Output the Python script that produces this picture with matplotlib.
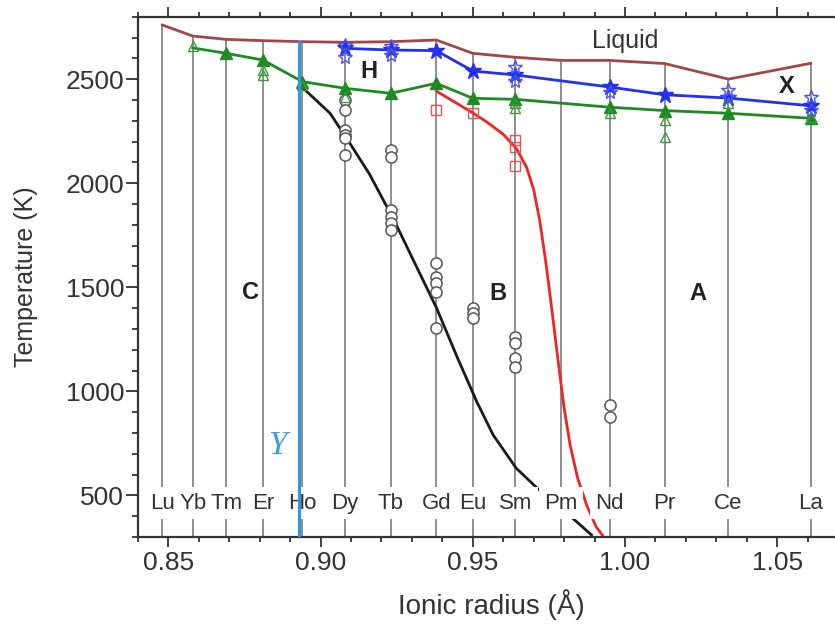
import matplotlib
matplotlib.use("Agg")
import matplotlib.pyplot as plt
from matplotlib.ticker import MultipleLocator, FormatStrFormatter

plt.rcParams['font.family'] = ['Liberation Sans', 'DejaVu Sans']

# element positions (ionic radius, Angstrom) and liquidus temperature
elements = ["Lu", "Yb", "Tm", "Er", "Ho", "Dy", "Tb", "Gd", "Eu", "Sm", "Pm", "Nd", "Pr", "Ce", "La"]
radii = [0.848, 0.858, 0.869, 0.881, 0.894, 0.908, 0.923, 0.938, 0.950, 0.964, 0.979, 0.995, 1.013, 1.034, 1.061]
liquidus = [2760, 2707, 2691, 2685, 2680, 2677, 2680, 2688, 2624, 2605, 2590, 2590, 2575, 2500, 2576]
y_radius = 0.893

# H phase boundary (green) and X phase boundary (blue)
green_x = [0.869, 0.881, 0.894, 0.908, 0.923, 0.938, 0.950, 0.964, 0.995, 1.013, 1.034, 1.061]
green_T = [2624, 2592, 2488, 2456, 2432, 2480, 2408, 2403, 2365, 2349, 2336, 2312]
green_start = (0.858, 2650)
blue_x = [0.908, 0.923, 0.938, 0.950, 0.964, 0.995, 1.013, 1.034, 1.061]
blue_T = [2648, 2640, 2637, 2539, 2520, 2462, 2425, 2409, 2372]

# C -> B boundary (black) and B -> A boundary (red)
black_x = [0.894, 0.9031, 0.9096, 0.9160, 0.9242, 0.9310, 0.9381, 0.9447, 0.9513, 0.9567,
           0.9643, 0.9715, 0.9780, 0.9840, 0.9890]
black_T = [2460, 2336, 2192, 2045, 1820, 1614, 1400, 1170, 950, 790, 630, 530, 450, 375, 310]
red_x = [0.9383, 0.9502, 0.9550, 0.9600, 0.9644, 0.9677, 0.9700, 0.9720, 0.9740, 0.9760,
         0.9780, 0.9800, 0.9820, 0.9845, 0.9875, 0.9905, 0.9930]
red_T = [2440, 2336, 2290, 2235, 2165, 2075, 1970, 1820, 1620, 1390,
         1150, 920, 740, 580, 450, 350, 300]

# measured points
circ_x = [0.908] * 6 + [0.923] * 6 + [0.938] * 5 + [0.950] * 3 + [0.964] * 4 + [0.995] * 2
circ_T = [2400, 2352, 2256, 2232, 2216, 2135,
          2160, 2128, 1871, 1839, 1807, 1776,
          1615, 1551, 1519, 1479, 1303,
          1399, 1375, 1351,
          1262, 1231, 1158, 1118,
          934, 878]
sq_x = [0.938, 0.950, 0.964, 0.964, 0.964]
sq_T = [2352, 2336, 2208, 2176, 2085]
gtri_x = [0.858, 0.881, 0.881, 0.894, 0.908, 0.964, 0.964, 0.995, 1.013, 1.013, 1.034, 1.061]
gtri_T = [2660, 2544, 2520, 2470, 2416, 2385, 2360, 2335, 2303, 2223, 2385, 2320]
bstar_x = [0.908, 0.908, 0.923, 0.923, 0.964, 0.964, 0.995, 1.034, 1.034, 1.061, 1.061]
bstar_T = [2664, 2608, 2660, 2615, 2560, 2490, 2440, 2448, 2416, 2416, 2352]

fig = plt.figure(figsize=(8.35, 6.28), dpi=100)
ax = fig.add_axes([0.1653, 0.1449, 0.8383, 0.8285])

ymin, ymax = 300, 2800
label_T = 462

# vertical element lines
for r, t in zip(radii, liquidus):
    ax.plot([r, r], [ymin, t], color="#8e8e8e", lw=1.4, zorder=1)

ax.plot(radii, liquidus, color="#a04848", lw=2, zorder=2)
ax.plot([green_start[0]] + green_x, [green_start[1]] + green_T, color="#1f8a24", lw=2, zorder=3)
ax.plot(green_x, green_T, color="#1f8a24", ls="none", marker="^", ms=8, zorder=3)
ax.plot(blue_x, blue_T, color="#2430f0", lw=2, marker="*", ms=12, zorder=3)
ax.plot(black_x, black_T, color="#1a1a1a", lw=2, zorder=2)
ax.plot(red_x, red_T, color="#f02424", lw=2, zorder=2)

ax.plot(circ_x, circ_T, ls="none", marker="o", ms=8, mfc="white", mec="#555555", mew=1.1, zorder=3)
ax.plot(sq_x, sq_T, ls="none", marker="s", ms=7, mfc="none", mec="#f05050", mew=1.0, zorder=3)
ax.plot(gtri_x, gtri_T, ls="none", marker="^", ms=7, mfc="none", mec="#3a9a3a", mew=1.0, zorder=3)
ax.plot(bstar_x, bstar_T, ls="none", marker="*", ms=10, mfc="none", mec="#4a55f0", mew=1.0, zorder=3)

# Y line
ax.plot([y_radius, y_radius], [ymin, 2680], color="#2a9ae0", lw=2.2, zorder=6)
ax.text(0.8857, 737, "Y", color="#3aa0e0", fontsize=24, family="Liberation Serif",
        style="italic", ha="center", va="center")

# element labels: white boxes first, then the text on top
for el, r in zip(elements, radii):
    ax.text(r, label_T, el, fontsize=16, color="white", ha="center", va="center", zorder=4,
            bbox=dict(boxstyle="square,pad=0.25", fc="white", ec="none"))
    ax.text(r, label_T, el, fontsize=16, color="#333333", ha="center", va="center", zorder=5)

for lab, x, t in [("C", 0.877, 1475), ("H", 0.916, 2536), ("B", 0.9584, 1471),
                  ("A", 1.024, 1471), ("X", 1.0531, 2464)]:
    ax.text(x, t, lab, fontsize=17, fontweight="bold", color="#222222", ha="center", va="center")
ax.text(1.0, 2682, "Liquid", fontsize=18, color="#333333", ha="center", va="center")

ax.set_xlim(0.84, 1.07)
ax.set_ylim(ymin, ymax)
ax.xaxis.set_major_locator(MultipleLocator(0.05))
ax.xaxis.set_minor_locator(MultipleLocator(0.01))
ax.xaxis.set_major_formatter(FormatStrFormatter("%.2f"))
ax.yaxis.set_minor_locator(MultipleLocator(100))
ax.set_yticks([500, 1000, 1500, 2000, 2500])

ax.spines["right"].set_visible(False)
for s in ["left", "top", "bottom"]:
    ax.spines[s].set_linewidth(1.6)
    ax.spines[s].set_color("#333333")

ax.tick_params(axis="x", which="both", direction="out", top=True, labelsize=19,
               colors="#333333", width=1.3)
ax.tick_params(axis="x", which="major", length=7, pad=3)
ax.tick_params(axis="x", which="minor", length=3.5)
ax.tick_params(axis="y", which="both", direction="out", labelsize=19, colors="#333333", width=1.3)
ax.tick_params(axis="y", which="major", length=9, pad=1)
ax.tick_params(axis="y", which="minor", length=4.5)

ax.set_xlabel("Ionic radius (Å)", fontsize=20, color="#333333", va="center")
ax.xaxis.set_label_coords(0.505, -0.1307)
ax.set_ylabel("Temperature (K)", fontsize=18, color="#333333", va="center")
ax.yaxis.set_label_coords(-0.16, 0.5)

fig.savefig("out.png", dpi=100)
